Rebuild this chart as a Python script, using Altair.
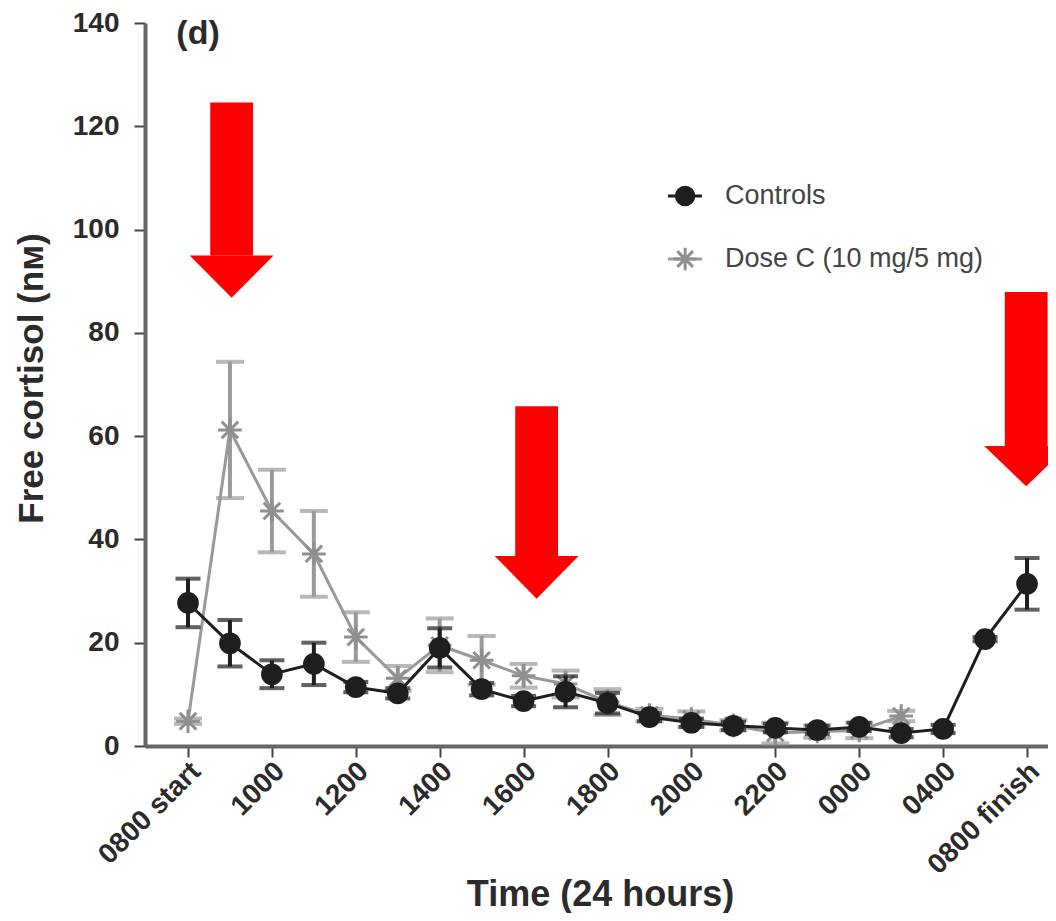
import altair as alt
import pandas as pd

# ---------------- data ----------------
tick_pos = [0, 2, 4, 6, 8, 10, 12, 14, 16, 18, 20]
tick_labels = ["0800 start", "1000", "1200", "1400", "1600", "1800",
               "2000", "2200", "0000", "0400", "0800 finish"]

ctrl_idx = list(range(21))
ctrl_mean = [27.7, 19.9, 13.9, 15.9, 11.4, 10.2, 19.0, 11.0, 8.7, 10.5, 8.3,
             5.6, 4.5, 3.9, 3.5, 3.1, 3.7, 2.5, 3.3, 20.7, 31.4]
ctrl_err = [4.7, 4.5, 2.7, 4.1, 1.0, 1.0, 3.8, 1.2, 1.0, 3.0, 2.0,
            0.8, 0.8, 0.8, 0.8, 0.8, 0.8, 0.8, 0.8, 0.4, 5.0]

dose_idx = list(range(18))
dose_mean = [4.8, 61.2, 45.5, 37.2, 21.1, 13.1, 19.5, 16.6, 13.6, 12.0, 8.5,
             6.0, 5.2, 4.0, 2.5, 2.8, 3.0, 5.8]
dose_err = [0.5, 13.2, 8.0, 8.3, 4.8, 2.4, 5.2, 4.7, 2.3, 2.6, 2.5,
            1.2, 1.5, 1.0, 2.0, 1.2, 1.5, 1.0]

legend_labels = ["Controls", "Dose C (10 mg/5 mg)"]
legend_y = [106.5, 94.3]
legend_x = 11.85
legend_x0 = 11.44
legend_x1 = 12.25
legend_tx = 12.80

arrow_x = [1.04, 8.31, 19.98]
arrow_top = [124.6, 65.8, 87.9]
arrow_head = [95.0, 36.8, 58.1]
arrow_tip = [86.8, 28.5, 50.3]

panel_label = "(d)"

# ---------------- frames ----------------
ctrl = pd.DataFrame({"i": ctrl_idx, "m": ctrl_mean,
                     "lo": [m - e for m, e in zip(ctrl_mean, ctrl_err)],
                     "hi": [m + e for m, e in zip(ctrl_mean, ctrl_err)]})
dose = pd.DataFrame({"i": dose_idx, "m": dose_mean,
                     "lo": [m - e for m, e in zip(dose_mean, dose_err)],
                     "hi": [m + e for m, e in zip(dose_mean, dose_err)]})

SHAFT = 0.51
HEAD = 1.0
shaft = pd.DataFrame({"a": [0, 1, 2],
                      "x0": [x - SHAFT for x in arrow_x],
                      "x1": [x + SHAFT for x in arrow_x],
                      "t": arrow_top, "b": arrow_head})
tri_rows = []
for k, (x, b, t) in enumerate(zip(arrow_x, arrow_head, arrow_tip)):
    tri_rows += [{"a": k, "x": x - HEAD, "y": b, "y2": b},
                 {"a": k, "x": x, "y": b, "y2": t},
                 {"a": k, "x": x + HEAD, "y": b, "y2": b}]
tri = pd.DataFrame(tri_rows)

leg = pd.DataFrame({"lab": legend_labels, "y": legend_y,
                    "x": [legend_x] * 2, "x0": [legend_x0] * 2,
                    "x1": [legend_x1] * 2, "tx": [legend_tx] * 2})
leg_c = leg.iloc[[0]]
leg_d = leg.iloc[[1]]
panel = pd.DataFrame({"t": [panel_label], "x": [0.24], "y": [137.9]})

# ---------------- scales / axes ----------------
FONT = "Liberation Sans"
X0, X1 = -1.025, 20.5
xs = alt.Scale(domain=[X0, X1], nice=False, zero=False)
ys = alt.Scale(domain=[0, 140], nice=False, zero=True)

expr = ""
for p, l in zip(tick_pos, tick_labels):
    expr += f"datum.value == {p} ? '{l}' : "
expr += "''"

xaxis = alt.Axis(values=tick_pos, labelExpr=expr, title="Time (24 hours)",
                 labelAngle=-45, labelAlign="right", labelBaseline="top",
                 labelFontSize=28, labelFontWeight="bold", labelFont=FONT,
                 labelColor="#2b2b2b", labelPadding=0, labelOffset=-2,
                 labelOverlap=False, labelFlush=False,
                 tickSize=11, tickWidth=2, tickColor="#444",
                 domainColor="#666", domainWidth=4, grid=False,
                 titleFont=FONT, titleFontSize=36, titleFontWeight="bold",
                 titleColor="#2b2b2b", titleX=455, titleY=159,
                 titleAlign="center", titleBaseline="alphabetic")
yaxis = alt.Axis(values=[0, 20, 40, 60, 80, 100, 120, 140],
                 title="Free cortisol (nм)",
                 labelFontSize=28, labelFontWeight="bold", labelFont=FONT,
                 labelColor="#2b2b2b", labelPadding=15,
                 labelOverlap=False, labelFlush=False,
                 tickSize=11, tickWidth=2, tickColor="#444",
                 domainColor="#666", domainWidth=4, grid=False,
                 titleFont=FONT, titleFontSize=35, titleFontWeight="bold",
                 titleColor="#2b2b2b", titleX=-114, titleY=355,
                 titleAngle=270, titleAlign="center", titleBaseline="middle")

BLACK = "#1e1e1e"
GREY = "#8f8f8f"
ASTER = "M-1,0L1,0M0,-1L0,1M-0.7,-0.7L0.7,0.7M-0.7,0.7L0.7,-0.7"

def X(f="i"):
    return alt.X(f"{f}:Q", scale=xs, axis=xaxis)

def Y(f="m"):
    return alt.Y(f"{f}:Q", scale=ys, axis=yaxis)

# grey series
d_rule = alt.Chart(dose).mark_rule(color="#9a9a9a", strokeWidth=4).encode(
    x=X(), y=Y("lo"), y2="hi:Q")
d_cap_lo = alt.Chart(dose).mark_tick(color="#9a9a9a", orient="horizontal",
                                     size=28, thickness=4).encode(x=X(), y=Y("lo"))
d_cap_hi = alt.Chart(dose).mark_tick(color="#9a9a9a", orient="horizontal",
                                     size=28, thickness=4).encode(x=X(), y=Y("hi"))
d_line = alt.Chart(dose).mark_line(color="#999999", strokeWidth=3).encode(x=X(), y=Y())
d_pts = alt.Chart(dose).mark_point(shape=ASTER, size=560, filled=False,
                                   color=GREY, strokeWidth=3, opacity=1).encode(x=X(), y=Y())

# black series
c_rule = alt.Chart(ctrl).mark_rule(color=BLACK, strokeWidth=4).encode(
    x=X(), y=Y("lo"), y2="hi:Q")
c_cap_lo = alt.Chart(ctrl).mark_tick(color=BLACK, orient="horizontal",
                                     size=25, thickness=4).encode(x=X(), y=Y("lo"))
c_cap_hi = alt.Chart(ctrl).mark_tick(color=BLACK, orient="horizontal",
                                     size=25, thickness=4).encode(x=X(), y=Y("hi"))
c_line = alt.Chart(ctrl).mark_line(color=BLACK, strokeWidth=3).encode(x=X(), y=Y())
c_pts = alt.Chart(ctrl).mark_circle(color=BLACK, size=470, opacity=1).encode(x=X(), y=Y())

# arrows
a_shaft = alt.Chart(shaft).mark_rect(color="#ff0000").encode(
    x=X("x0"), x2="x1:Q", y=Y("t"), y2="b:Q")
a_head = alt.Chart(tri).mark_area(color="#ff0000", orient="vertical",
                                  opacity=1).encode(
    x=X("x"), y=Y("y"), y2="y2:Q", detail="a:N")

# legend
l_line_c = alt.Chart(leg_c).mark_rule(color=BLACK, strokeWidth=3).encode(
    x=X("x0"), x2="x1:Q", y=Y("y"))
l_pt_c = alt.Chart(leg_c).mark_circle(color=BLACK, size=420, opacity=1).encode(
    x=X("x"), y=Y("y"))
l_line_d = alt.Chart(leg_d).mark_rule(color="#999999", strokeWidth=3).encode(
    x=X("x0"), x2="x1:Q", y=Y("y"))
l_pt_d = alt.Chart(leg_d).mark_point(shape=ASTER, size=500, filled=False,
                                     color=GREY, strokeWidth=3, opacity=1).encode(
    x=X("x"), y=Y("y"))
l_txt = alt.Chart(leg).mark_text(align="left", baseline="middle", font=FONT,
                                 fontSize=27, color="#444").encode(
    x=X("tx"), y=Y("y"), text="lab:N")

p_txt = alt.Chart(panel).mark_text(align="center", baseline="middle", font=FONT,
                                   fontSize=34, fontWeight="bold",
                                   color="#2b2b2b").encode(
    x=X("x"), y=Y("y"), text="t:N")

chart = alt.layer(
    d_rule, d_cap_lo, d_cap_hi, d_line, d_pts,
    c_rule, c_cap_lo, c_cap_hi, c_line, c_pts,
    a_shaft, a_head,
    l_line_c, l_pt_c, l_line_d, l_pt_d, l_txt, p_txt,
).properties(
    width=903, height=723,
    padding={"left": 137, "top": 15, "right": 0, "bottom": 167},
    autosize=alt.AutoSizeParams(type="none"),
).configure_view(stroke=None)

chart.save("out.html", embed_options={"renderer": "svg", "actions": False})
